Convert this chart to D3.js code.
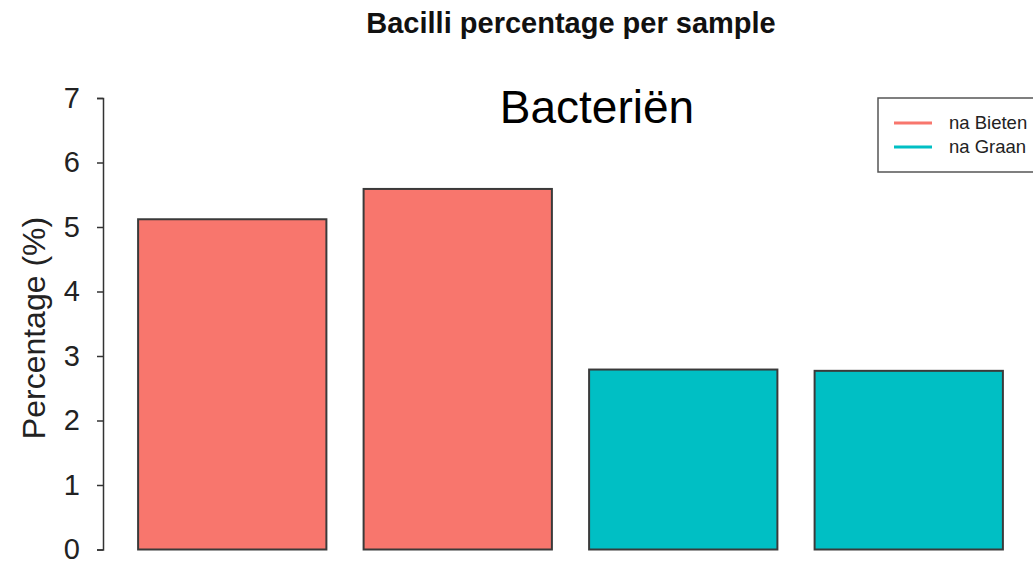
<!DOCTYPE html>
<html>
<head>
<meta charset="utf-8">
<script src="https://cdn.jsdelivr.net/npm/d3@7"></script>
<style>
  body { margin: 0; background: #fff; }
  svg { display: block; }
  text { font-family: "Liberation Sans", Arial, Helvetica, sans-serif; }
</style>
</head>
<body>
<svg id="chart" width="1033" height="564"></svg>
<script>
const samples = ["S1", "S2", "S3", "S4"];
const groups = ["na Bieten", "na Bieten", "na Graan", "na Graan"];
const values = [5.12, 5.59, 2.79, 2.77];
const legendLabels = ["na Bieten", "na Graan"];
const legendColors = ["#F8766D", "#00BFC4"];
const yTicks = [0, 1, 2, 3, 4, 5, 6, 7];

const svg = d3.select("#chart");
const color = d3.scaleOrdinal().domain(legendLabels).range(legendColors);

const y = d3.scaleLinear().domain([0, 7]).range([549.5, 98]);
const x = d3.scaleBand().domain(samples).range([119.5, 1021.5])
  .paddingInner(0.165).paddingOuter(0.0825);

// title
svg.append("text")
  .attr("x", 571).attr("y", 33)
  .attr("text-anchor", "middle")
  .attr("font-size", 29).attr("font-weight", "bold")
  .attr("fill", "#111")
  .text("Bacilli percentage per sample");

// bars
svg.append("g").selectAll("rect")
  .data(values)
  .join("rect")
  .attr("x", (d, i) => x(samples[i]))
  .attr("y", d => y(d))
  .attr("width", x.bandwidth())
  .attr("height", d => y(0) - y(d))
  .attr("fill", (d, i) => color(groups[i]))
  .attr("stroke", "#3a3a3a")
  .attr("stroke-width", 2);

// y axis
const yAxis = d3.axisLeft(y).tickValues(yTicks).tickFormat(d3.format("d"))
  .tickSize(6).tickPadding(17).tickSizeOuter(6);
const gy = svg.append("g").attr("transform", "translate(103,0)").call(yAxis);
gy.select(".domain").attr("stroke", "#333").attr("stroke-width", 1.5);
gy.selectAll(".tick line").attr("stroke", "#333").attr("stroke-width", 1.5);
gy.selectAll(".tick text")
  .attr("font-size", 29)
  .attr("fill", "#222")
  .attr("font-family", "Liberation Sans, Arial, sans-serif");

// y label
svg.append("text")
  .attr("transform", "translate(45,328) rotate(-90)")
  .attr("text-anchor", "middle")
  .attr("font-size", 32)
  .attr("fill", "#222")
  .text("Percentage (%)");

// annotation
svg.append("text")
  .attr("x", 597).attr("y", 123)
  .attr("text-anchor", "middle")
  .attr("font-size", 46)
  .attr("fill", "#000")
  .text("Bacteriën");

// legend
const lg = svg.append("g");
lg.append("rect")
  .attr("x", 878).attr("y", 98)
  .attr("width", 170).attr("height", 74)
  .attr("fill", "#fff")
  .attr("stroke", "#555").attr("stroke-width", 1.5);
legendLabels.forEach((lab, i) => {
  const yy = 123 + i * 24;
  lg.append("line")
    .attr("x1", 894).attr("x2", 932)
    .attr("y1", yy).attr("y2", yy)
    .attr("stroke", color(lab)).attr("stroke-width", 3);
  lg.append("text")
    .attr("x", 949).attr("y", yy + 6)
    .attr("font-size", 18.5)
    .attr("fill", "#222")
    .text(lab);
});
</script>
</body>
</html>
